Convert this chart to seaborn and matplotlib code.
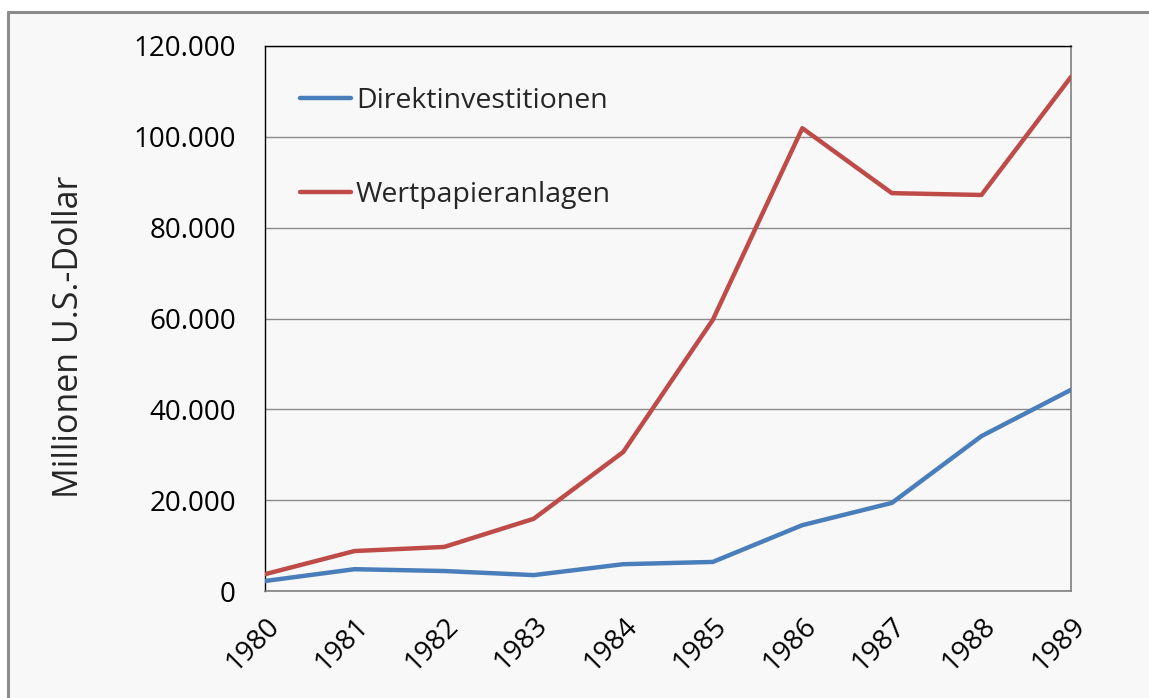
import matplotlib
matplotlib.use("Agg")
import matplotlib.pyplot as plt
import matplotlib.ticker as mticker
from matplotlib.patches import Rectangle
from matplotlib.lines import Line2D
import pandas as pd
import seaborn as sns

years = [1980, 1981, 1982, 1983, 1984, 1985, 1986, 1987, 1988, 1989]
direkt = [2200, 4800, 4400, 3500, 5900, 6400, 14500, 19400, 34100, 44300]
wertpapier = [3700, 8800, 9700, 15900, 30600, 59700, 101900, 87600, 87200, 113200]
series_names = ["Direktinvestitionen", "Wertpapieranlagen"]
y_ticks = [0, 20000, 40000, 60000, 80000, 100000, 120000]

df = pd.DataFrame({
    "Jahr": years * 2,
    "Wert": direkt + wertpapier,
    "Reihe": [series_names[0]] * len(years) + [series_names[1]] * len(years),
})

sns.set_style("white")
plt.rcParams["font.family"] = ["Open Sans", "DejaVu Sans"]

bg = "#f8f8f8"
fig = plt.figure(figsize=(11.49, 6.98), dpi=100, facecolor="white")
# outer chart frame (only top and left edges are inside the picture)
fx, fy = 8 / 1149, 1 - 12 / 698
fig.patches.append(Rectangle((fx, 0), 1 - fx, fy, transform=fig.transFigure,
                             facecolor=bg, edgecolor="none", zorder=-2))
fig.lines.append(Line2D([fx, 1], [fy, fy], transform=fig.transFigure,
                        color="#8c8c8c", linewidth=2.2))
fig.lines.append(Line2D([fx, fx], [0, fy], transform=fig.transFigure,
                        color="#8c8c8c", linewidth=2.2))

ax = fig.add_axes([265 / 1149, 1 - 591 / 698, (1071 - 265) / 1149, (591 - 46) / 698])
ax.set_facecolor(bg)

sns.lineplot(data=df, x="Jahr", y="Wert", hue="Reihe",
             palette=["#4a7ebb", "#be4b48"], linewidth=3.2, ax=ax, zorder=3)

ax.set_xlim(1980, 1989)
ax.set_ylim(0, 120000)
ax.set_xticks(years)
ax.set_yticks(y_ticks)
ax.yaxis.set_major_formatter(mticker.FuncFormatter(
    lambda v, p: "0" if v == 0 else f"{int(v):,}".replace(",", ".")))
ax.grid(axis="y", color="#8a8a8a", linewidth=1)
ax.set_axisbelow(True)

for s in ["top", "left"]:
    ax.spines[s].set_color("black")
    ax.spines[s].set_linewidth(1)
for s in ["right", "bottom"]:
    ax.spines[s].set_color("#7f7f7f")
    ax.spines[s].set_linewidth(1.2)

ax.tick_params(axis="both", direction="out", length=7, width=1, colors="black",
               labelsize=20)
ax.tick_params(axis="y", pad=14)
ax.tick_params(axis="x", pad=8)
plt.setp(ax.get_xticklabels(), rotation=45, ha="right", rotation_mode="anchor")

ax.set_xlabel("")
ax.set_ylabel("Millionen U.S.-Dollar", fontsize=24.5)
ax.yaxis.set_label_coords(-0.222, 0.466)

ax.legend(frameon=False, loc="upper left", bbox_to_anchor=(0.029, 0.945),
          fontsize=20.5, handlelength=1.8, handletextpad=0.17, labelspacing=2.3,
          borderaxespad=0)

fig.savefig("out.png", dpi=100, facecolor="white")
